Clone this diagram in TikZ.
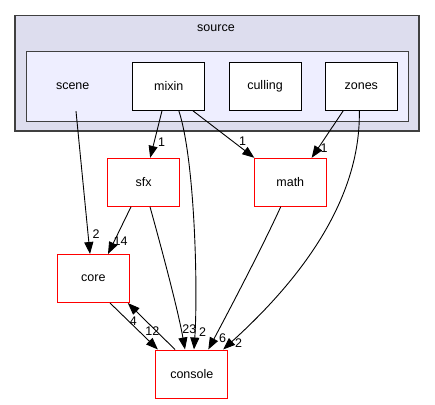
\documentclass[tikz,border=0pt]{standalone}
\usepackage{fontspec}
\setmainfont{Liberation Sans}
\usetikzlibrary{arrows.meta,calc}

\definecolor{clusterouter}{HTML}{DDDDEE}
\definecolor{clusterinner}{HTML}{EEEEFF}
\definecolor{clusterline}{HTML}{404040}
\definecolor{dirred}{HTML}{FF0000}

\tikzset{
  every node/.style={font=\fontsize{12.5}{14}\selectfont, inner sep=0pt},
  dirbox/.style={draw=black, fill=white, line width=1pt,
                 minimum width=72pt, minimum height=48pt},
  extbox/.style={dirbox, draw=dirred},
  dep/.style={draw=black, line width=0.9pt,
              -{Triangle[length=12pt,width=9pt]}},
  deplabel/.style={fill=none}
}

\begin{document}
\begin{tikzpicture}[x=1pt, y=-1pt]
  \useasboundingbox (0,0) rectangle (435,404);

  % clusters
  \draw[clusterline, fill=clusterouter, line width=1.2pt] (15,15.3) rectangle (419,131);
  \node (source) at (216,27.7) {source};
  \draw[clusterline, fill=clusterinner, line width=1.2pt] (26.3,51.7) rectangle (408.3,121.3);

  % directories inside the cluster
  \node[minimum height=50pt] (scene) at (72.7,86) {scene};
  \node[dirbox] (mixin)   at (168.8,86.2) {mixin};
  \node[dirbox] (culling) at (265,86.2)   {culling};
  \node[dirbox] (zones)   at (361.3,86.2) {zones};

  % external directories
  \node[extbox] (sfx)     at (143.7,182.3) {sfx};
  \node[extbox] (math)    at (290.3,182.3) {math};
  \node[extbox] (core)    at (93.3,278.5)  {core};
  \node[extbox] (console) at (191.8,374)   {console};

  % dependencies
  \draw[dep] ($(scene.south)+(3.3,0)$) -- ($(core.north)+(-3.3,0)$);
  \node[deplabel] (l1) at (96,234.5) {2};

  \draw[dep] ($(mixin.south)+(-6.8,0)$) -- ($(sfx.north)+(6.5,0)$);
  \node[deplabel] (l2) at (161.7,142) {1};

  \draw[dep] ($(mixin.south)+(10,0)$) .. controls (195,160) and (198,290) .. ($(console.north)+(2.2,0)$);
  \node[deplabel] (l3) at (202.7,332) {2};

  \draw[dep] ($(mixin.south)+(24,0)$) -- ($(math.north west)+(0.5,0)$);
  \node[deplabel] (l4) at (242.5,141) {1};

  \draw[dep] ($(zones.south)+(-18,0)$) -- ($(math.north)+(21.4,0)$);
  \node[deplabel] (l5) at (324.2,148.3) {1};

  \draw[dep] ($(zones.south)+(-2,0)$) .. controls (361,200) and (300,280) .. ($(console.north)+(31.3,0)$);
  \node[deplabel] (l6) at (238.7,343) {2};

  \draw[dep] ($(sfx.south)+(-12.7,0)$) -- ($(core.north)+(14.7,0)$);
  \node[deplabel] (l7) at (120.5,241) {14};

  \draw[dep] ($(sfx.south)+(6.3,0)$) .. controls (162,250) and (178,310) .. ($(console.north)+(-6.8,0)$);
  \node[deplabel] (l8) at (189.3,329.5) {23};

  \draw[dep] ($(math.south)+(-9.6,0)$) .. controls (268,235) and (240,290) .. ($(console.north)+(16.5,0)$);
  \node[deplabel] (l9) at (222.7,338) {6};

  \draw[dep] ($(core.south)+(16.7,0)$) -- ($(console.north west)+(2.6,0)$);
  \node[deplabel] (l10) at (152.3,331.3) {12};

  \draw[dep] ($(console.north)+(-16.8,0)$) -- ($(core.south east)+(-2,0)$);
  \node[deplabel] (l11) at (133.3,321) {4};
\end{tikzpicture}
\end{document}
